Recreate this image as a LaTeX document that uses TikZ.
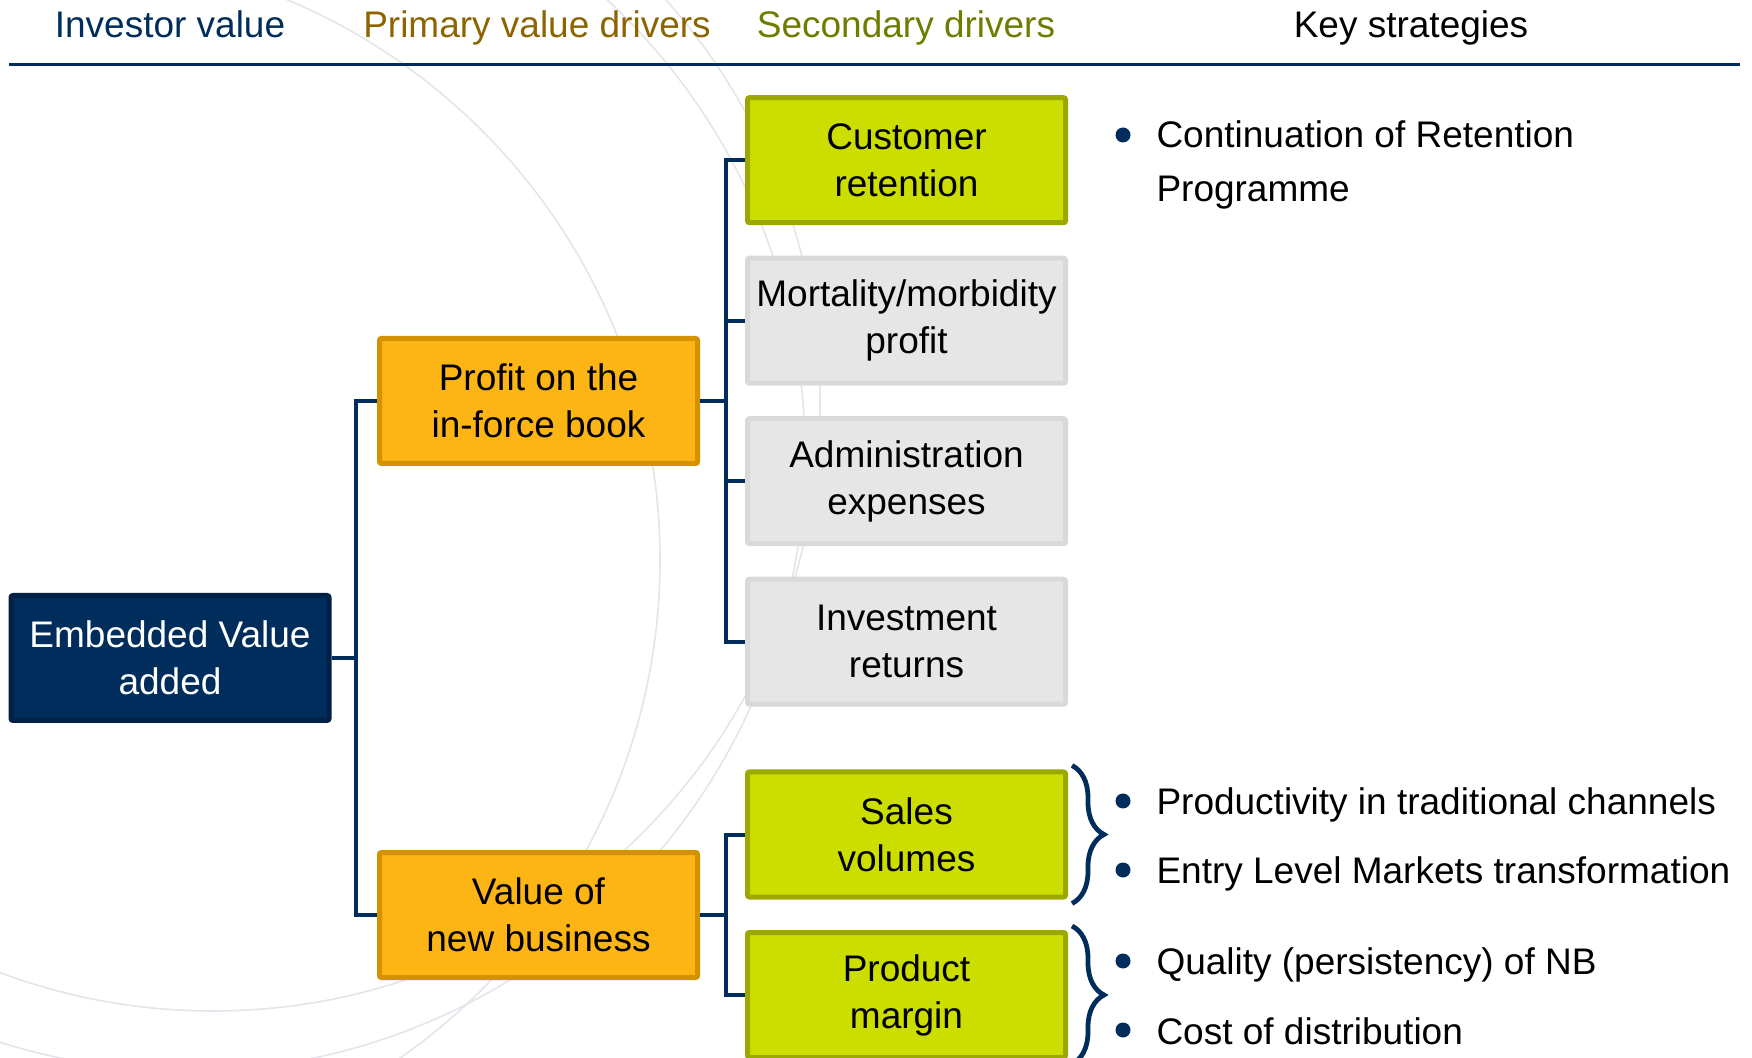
\documentclass[tikz,border=0pt]{standalone}
\usepackage{fontspec}
\setmainfont{Liberation Sans}
\usetikzlibrary{positioning}
\usetikzlibrary{decorations.pathreplacing}

\definecolor{evnavy}{RGB}{0,45,92}
\definecolor{evnavyline}{RGB}{1,33,68}
\definecolor{pvfill}{RGB}{253,181,21}
\definecolor{pvline}{RGB}{212,145,0}
\definecolor{sdfill}{RGB}{204,221,0}
\definecolor{sdline}{RGB}{155,168,0}
\definecolor{greyfill}{RGB}{230,230,230}
\definecolor{greyline}{RGB}{217,217,217}
\definecolor{pvtext}{RGB}{140,100,0}
\definecolor{sdtext}{RGB}{110,125,0}
\definecolor{arcgrey}{RGB}{228,228,236}

\begin{document}
\begin{tikzpicture}[x=1pt, y=1pt, line width=1.5pt,
    box/.style = {rectangle, draw, line width=2.5pt, rounded corners=1pt, inner sep=0pt,
                  minimum width=159pt, minimum height=62.5pt, align=center,
                  font=\fontsize{18.5pt}{23.5pt}\selectfont},
    evbox/.style = {box, fill=evnavy, draw=evnavyline, text=white},
    pvbox/.style = {box, fill=pvfill, draw=pvline},
    sdbox/.style = {box, fill=sdfill, draw=sdline},
    greybox/.style = {box, fill=greyfill, draw=greyline},
    head/.style = {anchor=base, inner sep=0pt, font=\fontsize{18.5pt}{23.5pt}\selectfont},
    strat/.style = {anchor=west, inner sep=0pt, align=left, font=\fontsize{18.5pt}{27pt}\selectfont},
    dot/.style = {circle, fill=evnavy, inner sep=0pt, minimum size=7.5pt},
    link/.style = {draw=evnavy, line width=2pt},
    kbrace/.style = {draw=evnavy, line width=2.4pt, decorate, decoration={brace, amplitude=16pt}},
    arc/.style = {draw=arcgrey, line width=0.8pt}]

    \useasboundingbox (0,0) rectangle (876,-529);

    % faint background circles
    \begin{scope}
        \clip (0,0) rectangle (876,-529);
        \draw[arc] (26.5,-280) circle (303.5);
        \draw[arc] (93.5,-226.5) circle (309);
        \draw[arc] (106.5,-202) circle (303.5);
    \end{scope}

    % column heads
    \node (hInv) [head, text=evnavy] at (85,-18.9) {Investor value};
    \node (hPrim) [head, text=pvtext] at (268.5,-18.9) {Primary value drivers};
    \node (hSec) [head, text=sdtext] at (453,-18.9) {Secondary drivers};
    \node (hKey) [head] at (705.5,-18.9) {Key strategies};
    \draw[evnavy, line width=1.5pt] (4.5,-32.5) -- (870,-32.5);

    \begin{scope}[on grid]

        \node (ev) at (85,-329) [evbox] {Embedded Value\\added};

        \node (pif) [pvbox, above right=128.5pt and 184.25pt of ev] {Profit on the\\in-force book};
        \node (vnb) [pvbox, below right=128.5pt and 184.25pt of ev] {Value of\\new business};

        \node (cust)   [sdbox, above right=120.4pt and 184pt of pif] {Customer\\retention};
        \node (mort)   [greybox, below=80.25pt of cust] {Mortality/morbidity\\profit};
        \node (admin)  [greybox, below=80.25pt of mort] {Administration\\expenses};
        \node (inv)    [greybox, below=80.25pt of admin] {Investment\\returns};

        \node (sales)  [sdbox, above right=40.25pt and 184pt of vnb] {Sales\\volumes};
        \node (margin) [sdbox, below=80.25pt of sales] {Product\\margin};

        \draw[link] (ev.east) -- ++(12,0) |- (pif.west);
        \draw[link] (ev.east) -- ++(12,0) |- (vnb.west);

        \foreach \sd in {cust, mort, admin, inv}
            \draw[link] (pif.east) -- ++(12.75,0) |- (\sd.west);
        \foreach \sd in {sales, margin}
            \draw[link] (vnb.east) -- ++(12.75,0) |- (\sd.west);

        \draw[kbrace] ([xshift=2pt, yshift=2pt]sales.north east) -- ([xshift=2pt, yshift=-2pt]sales.south east);
        \draw[kbrace] ([xshift=2pt, yshift=2pt]margin.north east) -- ([xshift=2pt, yshift=-2pt]margin.south east);

        % key strategies
        \node (dot1) [dot] at (561.5,-67.5) {};
        \node (ks1) [strat] at (577.5,-82.3) {Continuation of Retention\\Programme};
        \node (dot2) [dot] at (561.5,-400.5) {};
        \node (ks2) [strat] at (577.5,-402.3) {Productivity in traditional channels};
        \node (dot3) [dot] at (561.5,-435) {};
        \node (ks3) [strat] at (577.5,-436.8) {Entry Level Markets transformation};
        \node (dot4) [dot] at (561.5,-480.5) {};
        \node (ks4) [strat] at (577.5,-482.3) {Quality (persistency) of NB};
        \node (dot5) [dot] at (561.5,-515) {};
        \node (ks5) [strat] at (577.5,-515.5) {Cost of distribution};
    \end{scope}

\end{tikzpicture}
\end{document}
